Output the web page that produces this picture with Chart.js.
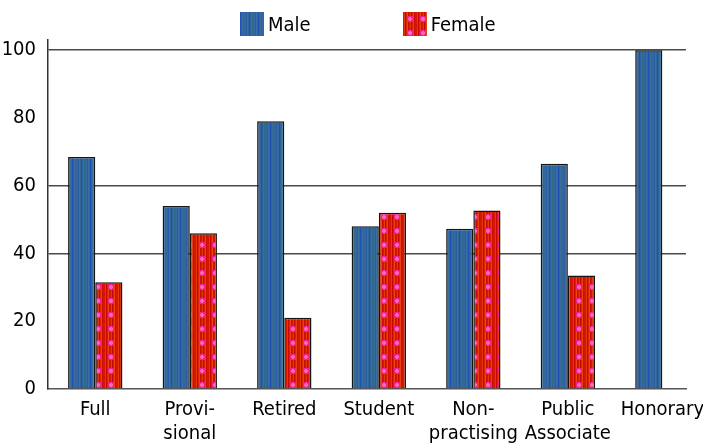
<!DOCTYPE html>
<html>
<head>
<meta charset="utf-8">
<script src="https://cdn.jsdelivr.net/npm/chart.js@4.4.1/dist/chart.umd.min.js"></script>
<style>
  html, body { margin: 0; padding: 0; background: #fff; overflow: hidden; }
  #wrap { position: relative; width: 703px; height: 445px; }
  #legend { position: absolute; top: 12px; left: 240px; display: flex; align-items: center;
            font-family: 'Liberation Sans Narrow', 'DejaVu Sans Condensed', 'Roboto Condensed', sans-serif;
            font-size: 20px; color: #000; }
  #legend .item { display: flex; align-items: center; margin-right: 92px; }
  #legend canvas { width: 24px; height: 24px; margin-right: 4px; }
</style>
</head>
<body>
<div id="wrap">
  <canvas id="chart" width="703" height="445"></canvas>
  <div id="legend"></div>
</div>
<script>
const categories = ['Full', ['Provi-', 'sional'], 'Retired', 'Student', ['Non-', 'practising'], ['Public', 'Associate'], 'Honorary'];
const seriesNames = ['Male', 'Female'];
const maleValues = [68.5, 54, 79, 48, 47.3, 66.5, 100];
const femaleValues = [31.5, 46, 21, 52, 52.7, 33.5, 0];
const yTicks = [0, 20, 40, 60, 80, 100];
const gridLevels = [40, 60, 100];

const FONT = "'Liberation Sans Narrow', 'DejaVu Sans Condensed', 'Roboto Condensed', sans-serif";

// striped blue fill for the male bars
function malePattern() {
    const c = document.createElement('canvas');
    const cols = ['#1f4fb8', '#2f62a2', '#3a6e98', '#2e6a8c', '#336699', '#34679b', '#2a5ea4', '#3b6f9c', '#336699'];
    c.width = cols.length; c.height = 4;
    const g = c.getContext('2d');
    cols.forEach((col, i) => { g.fillStyle = col; g.fillRect(i, 0, 1, 4); });
    return g.createPattern(c, 'repeat');
}

// red stripes with pink dots for the female bars
function femalePattern() {
    const c = document.createElement('canvas');
    c.width = 13; c.height = 14;
    const g = c.getContext('2d');
    const cols = ['#d41800', '#e03a0c', '#c80800', '#d82400', '#e84810', '#cc1000', '#d41800',
                  '#e03a0c', '#c80800', '#d82400', '#e44010', '#cc1000', '#d41800'];
    cols.forEach((col, i) => { g.fillStyle = col; g.fillRect(i, 0, 1, 14); });
    g.fillStyle = '#f0208c';
    g.fillRect(4, 4, 6, 6);
    g.fillStyle = '#ff6ab8';
    g.fillRect(5, 6, 4, 2);
    g.fillRect(6, 5, 2, 4);
    return g.createPattern(c, 'repeat');
}

const fills = [malePattern(), femalePattern()];

// html legend built from the series names
const legendEl = document.getElementById('legend');
seriesNames.forEach((name, i) => {
    const item = document.createElement('div');
    item.className = 'item';
    const sw = document.createElement('canvas');
    sw.width = 24; sw.height = 24;
    const sg = sw.getContext('2d');
    sg.fillStyle = fills[i];
    sg.fillRect(0, 0, 24, 24);
    item.appendChild(sw);
    const t = document.createElement('span');
    t.textContent = name;
    item.appendChild(t);
    legendEl.appendChild(item);
});

const toPoints = arr => arr.map((v, i) => ({ x: i, y: v }));

new Chart(document.getElementById('chart'), {
    type: 'bar',
    data: {
        datasets: [
            { label: seriesNames[0], data: toPoints(maleValues), backgroundColor: fills[0] },
            { label: seriesNames[1], data: toPoints(femaleValues), backgroundColor: fills[1] }
        ]
    },
    options: {
        responsive: false,
        animation: false,
        layout: { padding: { top: 40, right: 17, left: 0, bottom: 0 } },
        datasets: {
            bar: {
                categoryPercentage: 0.575,
                barPercentage: 1,
                borderColor: '#151515',
                borderWidth: ctx => (ctx.raw && ctx.raw.y === 0) ? 0 : 1.5
            }
        },
        plugins: { legend: { display: false }, tooltip: { enabled: false } },
        scales: {
            x: {
                type: 'linear',
                offset: false,
                min: -0.5,
                max: 6.25,
                afterBuildTicks: s => { s.ticks = categories.map((c, i) => ({ value: i })); },
                afterFit: s => { s.height = 56; s.paddingLeft = 0; s.paddingRight = 0; },
                grid: { display: false, drawTicks: false, offset: false },
                border: { display: true, color: '#555', width: 1.5 },
                ticks: {
                    callback: v => categories[v],
                    maxRotation: 0,
                    autoSkip: false,
                    padding: 9,
                    color: '#000',
                    font: { family: FONT, size: 20, lineHeight: 1.2 }
                }
            },
            y: {
                min: 0,
                max: 103,
                afterBuildTicks: s => { s.ticks = yTicks.map(v => ({ value: v })); },
                afterFit: s => { s.width = 48; },
                grid: {
                    drawTicks: false,
                    color: c => gridLevels.includes(c.tick.value) ? '#4a4a4a' : 'rgba(0,0,0,0)',
                    lineWidth: 1.5
                },
                border: { display: true, color: '#333', width: 1.5 },
                ticks: {
                    padding: 12,
                    color: '#000',
                    font: { family: FONT, size: 20 }
                }
            }
        }
    }
});
</script>
</body>
</html>
